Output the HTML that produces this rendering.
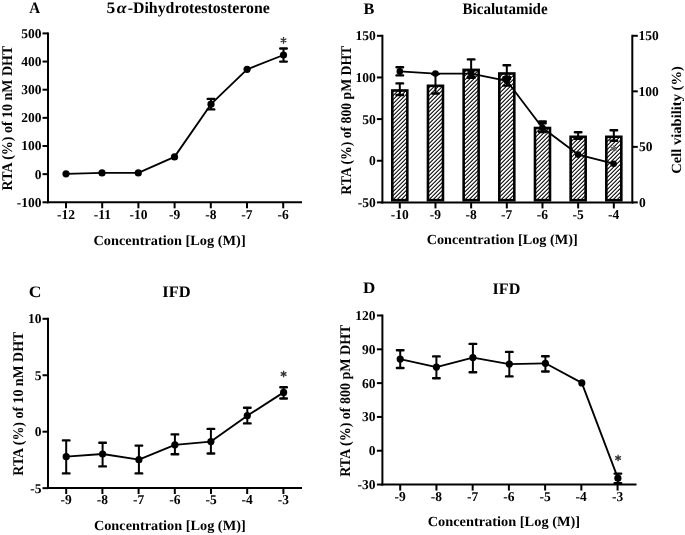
<!DOCTYPE html>
<html><head><meta charset="utf-8"><style>
html,body{margin:0;padding:0;background:#fff;}
svg{display:block;filter:grayscale(1) blur(0.3px);}
</style></head><body>
<svg width="685" height="535" viewBox="0 0 685 535" font-family="Liberation Serif, serif" font-weight="bold" text-rendering="geometricPrecision">
<defs>
<pattern id="hatch" patternUnits="userSpaceOnUse" x="0" y="0" width="4" height="4">
<rect width="4" height="4" fill="#fff"/>
<path d="M0,4L4,0L4,1.4L1.4,4ZM0,0L1.4,0L0,1.4Z" fill="#000"/>
</pattern>
</defs>
<rect width="685" height="535" fill="#fff"/>
<g stroke="#000" fill="#000">
<line x1="48.00" y1="32.40" x2="48.00" y2="203.30" stroke-width="2"/>
<line x1="42.50" y1="202.30" x2="48.00" y2="202.30" stroke-width="2"/>
<text stroke="none" transform="translate(16.77,206.72)" font-size="13.5" >-100</text>
<line x1="42.50" y1="174.15" x2="48.00" y2="174.15" stroke-width="2"/>
<text stroke="none" transform="translate(34.76,178.57)" font-size="13.5" >0</text>
<line x1="42.50" y1="146.00" x2="48.00" y2="146.00" stroke-width="2"/>
<text stroke="none" transform="translate(21.26,150.42)" font-size="13.5" >100</text>
<line x1="42.50" y1="117.85" x2="48.00" y2="117.85" stroke-width="2"/>
<text stroke="none" transform="translate(21.26,122.27)" font-size="13.5" >200</text>
<line x1="42.50" y1="89.70" x2="48.00" y2="89.70" stroke-width="2"/>
<text stroke="none" transform="translate(21.26,94.12)" font-size="13.5" >300</text>
<line x1="42.50" y1="61.55" x2="48.00" y2="61.55" stroke-width="2"/>
<text stroke="none" transform="translate(21.26,65.97)" font-size="13.5" >400</text>
<line x1="42.50" y1="33.40" x2="48.00" y2="33.40" stroke-width="2"/>
<text stroke="none" transform="translate(21.26,37.82)" font-size="13.5" >500</text>
<line x1="47.00" y1="202.30" x2="302.00" y2="202.30" stroke-width="2"/>
<line x1="66.00" y1="202.30" x2="66.00" y2="208.30" stroke-width="2"/>
<text stroke="none" transform="translate(57.04,219.00)" font-size="13.5" >-12</text>
<line x1="102.20" y1="202.30" x2="102.20" y2="208.30" stroke-width="2"/>
<text stroke="none" transform="translate(93.68,219.00)" font-size="13.5" >-11</text>
<line x1="138.40" y1="202.30" x2="138.40" y2="208.30" stroke-width="2"/>
<text stroke="none" transform="translate(129.41,219.00)" font-size="13.5" >-10</text>
<line x1="174.60" y1="202.30" x2="174.60" y2="208.30" stroke-width="2"/>
<text stroke="none" transform="translate(168.96,219.00)" font-size="13.5" >-9</text>
<line x1="210.80" y1="202.30" x2="210.80" y2="208.30" stroke-width="2"/>
<text stroke="none" transform="translate(205.15,219.00)" font-size="13.5" >-8</text>
<line x1="247.00" y1="202.30" x2="247.00" y2="208.30" stroke-width="2"/>
<text stroke="none" transform="translate(241.30,219.00)" font-size="13.5" >-7</text>
<line x1="283.20" y1="202.30" x2="283.20" y2="208.30" stroke-width="2"/>
<text stroke="none" transform="translate(277.53,219.00)" font-size="13.5" >-6</text>
<text stroke="none" transform="translate(93.48,244.50) scale(1.0246,1.0000)" font-size="14" >Concentration [Log (M)]</text>
<text stroke="none" transform="translate(11.90,190.44) rotate(-90) scale(0.9432,1.0000)" font-size="14.8" >RTA (%) of 10 nM DHT</text>
<text stroke="none" transform="translate(29.35,12.90) scale(0.9441,1.0000)" font-size="16" >A</text>
<text stroke="none" transform="translate(106.50,13.10) scale(1.0947,1.0000)" font-size="16" >5</text>
<text stroke="none" transform="translate(116.63,13.10) scale(1.1152,1.0000)" font-size="16" font-style="italic">&#945;</text>
<text stroke="none" transform="translate(127.71,13.20) scale(0.9904,1.0000)" font-size="16" >-Dihydrotestosterone</text>
<polyline points="66.00,173.80 102.00,172.90 138.30,172.90 174.50,156.90 211.00,104.20 247.10,69.30 283.50,55.00" fill="none" stroke-width="1.85" stroke-linejoin="round"/>
<circle cx="66.00" cy="173.80" r="3.6" stroke="none"/>
<circle cx="102.00" cy="172.90" r="3.6" stroke="none"/>
<circle cx="138.30" cy="172.90" r="3.6" stroke="none"/>
<circle cx="174.50" cy="156.90" r="3.6" stroke="none"/>
<circle cx="211.00" cy="104.20" r="3.6" stroke="none"/>
<circle cx="247.10" cy="69.30" r="3.6" stroke="none"/>
<circle cx="283.50" cy="55.00" r="3.6" stroke="none"/>
<line x1="211.00" y1="98.90" x2="211.00" y2="109.40" stroke-width="2.0"/>
<path d="M207.70,98.90H214.30M207.70,109.40H214.30" stroke-width="2.4" stroke-linecap="round"/>
<line x1="283.50" y1="48.50" x2="283.50" y2="61.60" stroke-width="2.0"/>
<path d="M280.20,48.50H286.80M280.20,61.60H286.80" stroke-width="2.4" stroke-linecap="round"/>
<path d="M283.50,37.10L283.50,43.70M280.64,38.75L286.36,42.05M286.36,38.75L280.64,42.05" stroke="#333" stroke-width="1.3" fill="none"/>
<line x1="382.40" y1="34.80" x2="382.40" y2="203.40" stroke-width="2"/>
<line x1="376.90" y1="202.40" x2="382.40" y2="202.40" stroke-width="2"/>
<text stroke="none" transform="translate(357.72,206.82)" font-size="13.5" >-50</text>
<line x1="376.90" y1="160.75" x2="382.40" y2="160.75" stroke-width="2"/>
<text stroke="none" transform="translate(368.96,165.17)" font-size="13.5" >0</text>
<line x1="376.90" y1="119.10" x2="382.40" y2="119.10" stroke-width="2"/>
<text stroke="none" transform="translate(362.21,123.52)" font-size="13.5" >50</text>
<line x1="376.90" y1="77.45" x2="382.40" y2="77.45" stroke-width="2"/>
<text stroke="none" transform="translate(355.46,81.87)" font-size="13.5" >100</text>
<line x1="376.90" y1="35.80" x2="382.40" y2="35.80" stroke-width="2"/>
<text stroke="none" transform="translate(355.46,40.22)" font-size="13.5" >150</text>
<line x1="632.30" y1="34.80" x2="632.30" y2="203.40" stroke-width="2"/>
<line x1="632.30" y1="202.40" x2="637.80" y2="202.40" stroke-width="2"/>
<text stroke="none" transform="translate(638.99,206.82)" font-size="13.5" >0</text>
<line x1="632.30" y1="146.87" x2="637.80" y2="146.87" stroke-width="2"/>
<text stroke="none" transform="translate(638.96,151.29)" font-size="13.5" >50</text>
<line x1="632.30" y1="91.33" x2="637.80" y2="91.33" stroke-width="2"/>
<text stroke="none" transform="translate(638.42,95.75)" font-size="13.5" >100</text>
<line x1="632.30" y1="35.80" x2="637.80" y2="35.80" stroke-width="2"/>
<text stroke="none" transform="translate(638.42,40.22)" font-size="13.5" >150</text>
<rect x="392.30" y="90.50" width="15.00" height="109.70" fill="url(#hatch)" stroke="#000" stroke-width="2.6"/>
<line x1="399.80" y1="83.40" x2="399.80" y2="95.00" stroke-width="2.0"/>
<path d="M396.50,83.40H403.10M396.50,95.00H403.10" stroke-width="2.4" stroke-linecap="round"/>
<rect x="427.97" y="85.80" width="15.00" height="114.40" fill="url(#hatch)" stroke="#000" stroke-width="2.6"/>
<line x1="435.47" y1="74.00" x2="435.47" y2="93.50" stroke-width="2.0"/>
<path d="M432.17,74.00H438.77M432.17,93.50H438.77" stroke-width="2.4" stroke-linecap="round"/>
<rect x="463.64" y="69.90" width="15.00" height="130.30" fill="url(#hatch)" stroke="#000" stroke-width="2.6"/>
<line x1="471.14" y1="59.40" x2="471.14" y2="77.80" stroke-width="2.0"/>
<path d="M467.84,59.40H474.44M467.84,77.80H474.44" stroke-width="2.4" stroke-linecap="round"/>
<rect x="499.31" y="73.50" width="15.00" height="126.70" fill="url(#hatch)" stroke="#000" stroke-width="2.6"/>
<line x1="506.81" y1="65.30" x2="506.81" y2="79.10" stroke-width="2.0"/>
<path d="M503.51,65.30H510.11M503.51,79.10H510.11" stroke-width="2.4" stroke-linecap="round"/>
<rect x="534.98" y="128.00" width="15.00" height="72.20" fill="url(#hatch)" stroke="#000" stroke-width="2.6"/>
<line x1="542.48" y1="121.40" x2="542.48" y2="132.00" stroke-width="2.0"/>
<path d="M539.18,121.40H545.78M539.18,132.00H545.78" stroke-width="2.4" stroke-linecap="round"/>
<rect x="570.65" y="136.80" width="15.00" height="63.40" fill="url(#hatch)" stroke="#000" stroke-width="2.6"/>
<line x1="578.15" y1="132.30" x2="578.15" y2="138.70" stroke-width="2.0"/>
<path d="M574.85,132.30H581.45M574.85,138.70H581.45" stroke-width="2.4" stroke-linecap="round"/>
<rect x="606.32" y="136.80" width="15.00" height="63.40" fill="url(#hatch)" stroke="#000" stroke-width="2.6"/>
<line x1="613.82" y1="130.20" x2="613.82" y2="140.80" stroke-width="2.0"/>
<path d="M610.52,130.20H617.12M610.52,140.80H617.12" stroke-width="2.4" stroke-linecap="round"/>
<line x1="381.40" y1="202.40" x2="633.30" y2="202.40" stroke-width="2"/>
<line x1="399.80" y1="202.40" x2="399.80" y2="208.40" stroke-width="2"/>
<text stroke="none" transform="translate(390.81,218.80)" font-size="13.5" >-10</text>
<line x1="435.47" y1="202.40" x2="435.47" y2="208.40" stroke-width="2"/>
<text stroke="none" transform="translate(429.83,218.80)" font-size="13.5" >-9</text>
<line x1="471.14" y1="202.40" x2="471.14" y2="208.40" stroke-width="2"/>
<text stroke="none" transform="translate(465.49,218.80)" font-size="13.5" >-8</text>
<line x1="506.81" y1="202.40" x2="506.81" y2="208.40" stroke-width="2"/>
<text stroke="none" transform="translate(501.11,218.80)" font-size="13.5" >-7</text>
<line x1="542.48" y1="202.40" x2="542.48" y2="208.40" stroke-width="2"/>
<text stroke="none" transform="translate(536.81,218.80)" font-size="13.5" >-6</text>
<line x1="578.15" y1="202.40" x2="578.15" y2="208.40" stroke-width="2"/>
<text stroke="none" transform="translate(572.53,218.80)" font-size="13.5" >-5</text>
<line x1="613.82" y1="202.40" x2="613.82" y2="208.40" stroke-width="2"/>
<text stroke="none" transform="translate(608.07,218.80)" font-size="13.5" >-4</text>
<polyline points="399.80,71.40 435.40,73.60 471.20,73.60 506.80,80.80 542.40,127.70 578.10,154.60 613.60,163.70" fill="none" stroke-width="1.85" stroke-linejoin="round"/>
<circle cx="399.80" cy="71.40" r="3.3" stroke="none"/>
<circle cx="435.40" cy="73.60" r="3.3" stroke="none"/>
<circle cx="471.20" cy="73.60" r="3.3" stroke="none"/>
<circle cx="506.80" cy="80.80" r="3.3" stroke="none"/>
<circle cx="542.40" cy="127.70" r="3.3" stroke="none"/>
<circle cx="578.10" cy="154.60" r="3.3" stroke="none"/>
<circle cx="613.60" cy="163.70" r="3.3" stroke="none"/>
<line x1="399.80" y1="67.30" x2="399.80" y2="75.40" stroke-width="2.0"/>
<path d="M396.50,67.30H403.10M396.50,75.40H403.10" stroke-width="2.4" stroke-linecap="round"/>
<line x1="471.20" y1="70.60" x2="471.20" y2="76.80" stroke-width="2.0"/>
<path d="M467.90,70.60H474.50M467.90,76.80H474.50" stroke-width="2.4" stroke-linecap="round"/>
<line x1="506.80" y1="77.30" x2="506.80" y2="85.60" stroke-width="2.0"/>
<path d="M503.50,77.30H510.10M503.50,85.60H510.10" stroke-width="2.4" stroke-linecap="round"/>
<line x1="542.40" y1="123.20" x2="542.40" y2="131.60" stroke-width="2.0"/>
<path d="M539.10,123.20H545.70M539.10,131.60H545.70" stroke-width="2.4" stroke-linecap="round"/>
<path d="M613.60,145.40L613.60,152.00M610.74,147.05L616.46,150.35M616.46,147.05L610.74,150.35" stroke="#666" stroke-width="1.4" fill="none"/>
<text stroke="none" transform="translate(426.69,244.00) scale(1.0164,1.0000)" font-size="14" >Concentration [Log (M)]</text>
<text stroke="none" transform="translate(350.80,194.64) rotate(-90) scale(0.9259,1.0000)" font-size="14.8" >RTA (%) of 800 pM DHT</text>
<text stroke="none" transform="translate(681.30,173.73) rotate(-90) scale(1.0399,1.0000)" font-size="14" >Cell viability (%)</text>
<text stroke="none" transform="translate(363.42,14.10) scale(1.0141,1.0000)" font-size="16" >B</text>
<text stroke="none" transform="translate(462.54,14.10) scale(0.9382,1.0000)" font-size="16" >Bicalutamide</text>
<line x1="48.00" y1="317.80" x2="48.00" y2="489.00" stroke-width="2"/>
<line x1="42.50" y1="318.80" x2="48.00" y2="318.80" stroke-width="2"/>
<text stroke="none" transform="translate(28.01,323.22)" font-size="13.5" >10</text>
<line x1="42.50" y1="375.25" x2="48.00" y2="375.25" stroke-width="2"/>
<text stroke="none" transform="translate(34.76,379.67)" font-size="13.5" >5</text>
<line x1="42.50" y1="431.70" x2="48.00" y2="431.70" stroke-width="2"/>
<text stroke="none" transform="translate(34.76,436.12)" font-size="13.5" >0</text>
<line x1="42.50" y1="488.15" x2="48.00" y2="488.15" stroke-width="2"/>
<text stroke="none" transform="translate(30.27,492.57)" font-size="13.5" >-5</text>
<line x1="47.00" y1="488.00" x2="302.00" y2="488.00" stroke-width="2"/>
<line x1="66.20" y1="488.00" x2="66.20" y2="494.00" stroke-width="2"/>
<text stroke="none" transform="translate(60.56,504.30)" font-size="13.5" >-9</text>
<line x1="102.40" y1="488.00" x2="102.40" y2="494.00" stroke-width="2"/>
<text stroke="none" transform="translate(96.75,504.30)" font-size="13.5" >-8</text>
<line x1="138.60" y1="488.00" x2="138.60" y2="494.00" stroke-width="2"/>
<text stroke="none" transform="translate(132.90,504.30)" font-size="13.5" >-7</text>
<line x1="174.80" y1="488.00" x2="174.80" y2="494.00" stroke-width="2"/>
<text stroke="none" transform="translate(169.13,504.30)" font-size="13.5" >-6</text>
<line x1="211.00" y1="488.00" x2="211.00" y2="494.00" stroke-width="2"/>
<text stroke="none" transform="translate(205.38,504.30)" font-size="13.5" >-5</text>
<line x1="247.20" y1="488.00" x2="247.20" y2="494.00" stroke-width="2"/>
<text stroke="none" transform="translate(241.45,504.30)" font-size="13.5" >-4</text>
<line x1="283.40" y1="488.00" x2="283.40" y2="494.00" stroke-width="2"/>
<text stroke="none" transform="translate(277.76,504.30)" font-size="13.5" >-3</text>
<polyline points="66.20,456.70 102.60,454.00 138.90,459.70 174.90,444.80 210.90,441.60 247.30,415.70 283.60,392.40" fill="none" stroke-width="1.85" stroke-linejoin="round"/>
<circle cx="66.20" cy="456.70" r="3.6" stroke="none"/>
<line x1="66.20" y1="440.40" x2="66.20" y2="473.40" stroke-width="2.0"/>
<path d="M62.90,440.40H69.50M62.90,473.40H69.50" stroke-width="2.4" stroke-linecap="round"/>
<circle cx="102.60" cy="454.00" r="3.6" stroke="none"/>
<line x1="102.60" y1="442.80" x2="102.60" y2="466.40" stroke-width="2.0"/>
<path d="M99.30,442.80H105.90M99.30,466.40H105.90" stroke-width="2.4" stroke-linecap="round"/>
<circle cx="138.90" cy="459.70" r="3.6" stroke="none"/>
<line x1="138.90" y1="445.60" x2="138.90" y2="473.40" stroke-width="2.0"/>
<path d="M135.60,445.60H142.20M135.60,473.40H142.20" stroke-width="2.4" stroke-linecap="round"/>
<circle cx="174.90" cy="444.80" r="3.6" stroke="none"/>
<line x1="174.90" y1="434.40" x2="174.90" y2="454.30" stroke-width="2.0"/>
<path d="M171.60,434.40H178.20M171.60,454.30H178.20" stroke-width="2.4" stroke-linecap="round"/>
<circle cx="210.90" cy="441.60" r="3.6" stroke="none"/>
<line x1="210.90" y1="428.90" x2="210.90" y2="453.50" stroke-width="2.0"/>
<path d="M207.60,428.90H214.20M207.60,453.50H214.20" stroke-width="2.4" stroke-linecap="round"/>
<circle cx="247.30" cy="415.70" r="3.6" stroke="none"/>
<line x1="247.30" y1="407.70" x2="247.30" y2="423.40" stroke-width="2.0"/>
<path d="M244.00,407.70H250.60M244.00,423.40H250.60" stroke-width="2.4" stroke-linecap="round"/>
<circle cx="283.60" cy="392.40" r="3.6" stroke="none"/>
<line x1="283.60" y1="387.20" x2="283.60" y2="398.50" stroke-width="2.0"/>
<path d="M280.30,387.20H286.90M280.30,398.50H286.90" stroke-width="2.4" stroke-linecap="round"/>
<path d="M283.60,370.70L283.60,377.30M280.74,372.35L286.46,375.65M286.46,372.35L280.74,375.65" stroke="#333" stroke-width="1.3" fill="none"/>
<text stroke="none" transform="translate(93.88,530.00) scale(1.0219,1.0000)" font-size="14" >Concentration [Log (M)]</text>
<text stroke="none" transform="translate(22.80,475.64) rotate(-90) scale(0.9380,1.0000)" font-size="14.8" >RTA (%) of 10 nM DHT</text>
<text stroke="none" transform="translate(28.82,297.20) scale(1.0977,1.0000)" font-size="16" >C</text>
<text stroke="none" transform="translate(162.36,297.30) scale(1.0290,1.0000)" font-size="16" >IFD</text>
<line x1="382.40" y1="314.50" x2="382.40" y2="485.50" stroke-width="2"/>
<line x1="376.90" y1="484.55" x2="382.40" y2="484.55" stroke-width="2"/>
<text stroke="none" transform="translate(357.62,488.97)" font-size="13.5" >-30</text>
<line x1="376.90" y1="450.74" x2="382.40" y2="450.74" stroke-width="2"/>
<text stroke="none" transform="translate(368.86,455.16)" font-size="13.5" >0</text>
<line x1="376.90" y1="416.93" x2="382.40" y2="416.93" stroke-width="2"/>
<text stroke="none" transform="translate(362.11,421.35)" font-size="13.5" >30</text>
<line x1="376.90" y1="383.12" x2="382.40" y2="383.12" stroke-width="2"/>
<text stroke="none" transform="translate(362.11,387.54)" font-size="13.5" >60</text>
<line x1="376.90" y1="349.31" x2="382.40" y2="349.31" stroke-width="2"/>
<text stroke="none" transform="translate(362.11,353.73)" font-size="13.5" >90</text>
<line x1="376.90" y1="315.50" x2="382.40" y2="315.50" stroke-width="2"/>
<text stroke="none" transform="translate(355.36,319.92)" font-size="13.5" >120</text>
<line x1="381.40" y1="484.55" x2="636.50" y2="484.55" stroke-width="2"/>
<line x1="400.20" y1="484.55" x2="400.20" y2="490.55" stroke-width="2"/>
<text stroke="none" transform="translate(394.56,500.90)" font-size="13.5" >-9</text>
<line x1="436.43" y1="484.55" x2="436.43" y2="490.55" stroke-width="2"/>
<text stroke="none" transform="translate(430.78,500.90)" font-size="13.5" >-8</text>
<line x1="472.66" y1="484.55" x2="472.66" y2="490.55" stroke-width="2"/>
<text stroke="none" transform="translate(466.96,500.90)" font-size="13.5" >-7</text>
<line x1="508.89" y1="484.55" x2="508.89" y2="490.55" stroke-width="2"/>
<text stroke="none" transform="translate(503.22,500.90)" font-size="13.5" >-6</text>
<line x1="545.12" y1="484.55" x2="545.12" y2="490.55" stroke-width="2"/>
<text stroke="none" transform="translate(539.50,500.90)" font-size="13.5" >-5</text>
<line x1="581.35" y1="484.55" x2="581.35" y2="490.55" stroke-width="2"/>
<text stroke="none" transform="translate(575.60,500.90)" font-size="13.5" >-4</text>
<line x1="617.58" y1="484.55" x2="617.58" y2="490.55" stroke-width="2"/>
<text stroke="none" transform="translate(611.94,500.90)" font-size="13.5" >-3</text>
<polyline points="400.20,359.10 436.40,367.10 472.90,357.60 509.30,364.10 545.40,363.30 581.80,382.90 617.90,478.20" fill="none" stroke-width="1.85" stroke-linejoin="round"/>
<circle cx="400.20" cy="359.10" r="3.6" stroke="none"/>
<line x1="400.20" y1="350.30" x2="400.20" y2="368.00" stroke-width="2.0"/>
<path d="M396.90,350.30H403.50M396.90,368.00H403.50" stroke-width="2.4" stroke-linecap="round"/>
<circle cx="436.40" cy="367.10" r="3.6" stroke="none"/>
<line x1="436.40" y1="356.40" x2="436.40" y2="378.30" stroke-width="2.0"/>
<path d="M433.10,356.40H439.70M433.10,378.30H439.70" stroke-width="2.4" stroke-linecap="round"/>
<circle cx="472.90" cy="357.60" r="3.6" stroke="none"/>
<line x1="472.90" y1="343.90" x2="472.90" y2="372.30" stroke-width="2.0"/>
<path d="M469.60,343.90H476.20M469.60,372.30H476.20" stroke-width="2.4" stroke-linecap="round"/>
<circle cx="509.30" cy="364.10" r="3.6" stroke="none"/>
<line x1="509.30" y1="351.90" x2="509.30" y2="376.40" stroke-width="2.0"/>
<path d="M506.00,351.90H512.60M506.00,376.40H512.60" stroke-width="2.4" stroke-linecap="round"/>
<circle cx="545.40" cy="363.30" r="3.6" stroke="none"/>
<line x1="545.40" y1="356.20" x2="545.40" y2="371.50" stroke-width="2.0"/>
<path d="M542.10,356.20H548.70M542.10,371.50H548.70" stroke-width="2.4" stroke-linecap="round"/>
<circle cx="581.80" cy="382.90" r="3.6" stroke="none"/>
<circle cx="617.90" cy="478.20" r="3.6" stroke="none"/>
<line x1="617.90" y1="473.60" x2="617.90" y2="483.30" stroke-width="2.0"/>
<path d="M614.60,473.60H621.20M614.60,483.30H621.20" stroke-width="2.4" stroke-linecap="round"/>
<path d="M618.10,454.70L618.10,461.30M615.24,456.35L620.96,459.65M620.96,456.35L615.24,459.65" stroke="#333" stroke-width="1.3" fill="none"/>
<text stroke="none" transform="translate(427.68,526.30) scale(1.0260,1.0000)" font-size="14" >Concentration [Log (M)]</text>
<text stroke="none" transform="translate(350.00,476.75) rotate(-90) scale(0.9464,1.0000)" font-size="14.8" >RTA (%) of 800 pM DHT</text>
<text stroke="none" transform="translate(363.10,292.80) scale(1.0592,1.0000)" font-size="16" >D</text>
<text stroke="none" transform="translate(492.58,293.60) scale(1.0061,1.0000)" font-size="16" >IFD</text>
</g>
</svg>
</body></html>
